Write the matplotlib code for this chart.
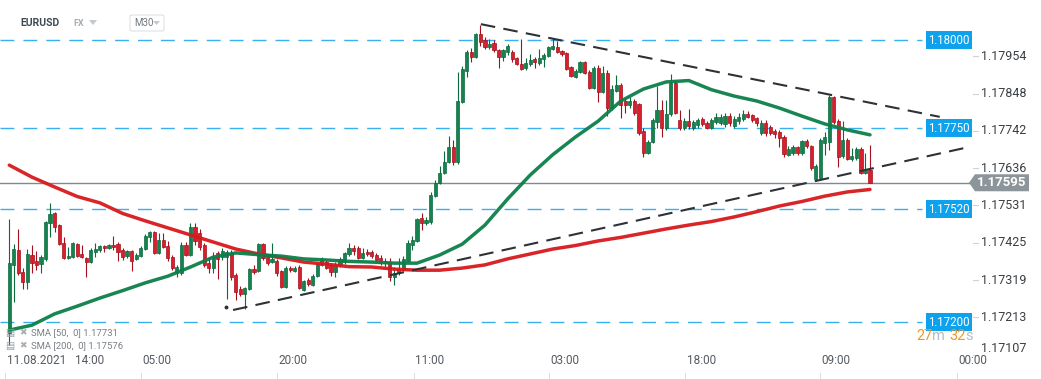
import matplotlib
matplotlib.use("Agg")
import matplotlib.pyplot as plt
import matplotlib.transforms as mtrans
from matplotlib.patches import Polygon, FancyBboxPatch
import numpy as np

plt.rcParams['font.family'] = ['Roboto', 'DejaVu Sans']

# --- data (EURUSD M30 candles) ---
opens = [1.17169, 1.17362, 1.17404, 1.17342, 1.17313, 1.17390, 1.17373, 1.17364, 1.17379, 1.17481,
         1.17509, 1.17475, 1.17424, 1.17382, 1.17384, 1.17421, 1.17393, 1.17382, 1.17370, 1.17399,
         1.17404, 1.17416, 1.17410, 1.17418, 1.17421, 1.17404, 1.17387, 1.17401, 1.17379, 1.17387,
         1.17407, 1.17441, 1.17455, 1.17396, 1.17433, 1.17416, 1.17384, 1.17339, 1.17339, 1.17418,
         1.17390, 1.17469, 1.17452, 1.17418, 1.17367, 1.17353, 1.17396, 1.17384, 1.17384, 1.17396,
         1.17333, 1.17294, 1.17279, 1.17294, 1.17350, 1.17345, 1.17421, 1.17384, 1.17370, 1.17373,
         1.17345, 1.17299, 1.17353, 1.17345, 1.17356, 1.17291, 1.17319, 1.17305, 1.17330, 1.17362,
         1.17370, 1.17362, 1.17342, 1.17362, 1.17370, 1.17393, 1.17410, 1.17410, 1.17382, 1.17399,
         1.17399, 1.17390, 1.17382, 1.17367, 1.17370, 1.17328, 1.17339, 1.17350, 1.17373, 1.17418,
         1.17430, 1.17495, 1.17481, 1.17484, 1.17557, 1.17594, 1.17623, 1.17654, 1.17696, 1.17654,
         1.17824, 1.17912, 1.17966, 1.17952, 1.18017, 1.18000, 1.17980, 1.17991, 1.17972, 1.17952,
         1.17966, 1.17966, 1.17949, 1.17932, 1.17921, 1.17932, 1.17946, 1.17935, 1.17946, 1.17955,
         1.17974, 1.17980, 1.17969, 1.17963, 1.17923, 1.17895, 1.17909, 1.17938, 1.17909, 1.17864,
         1.17921, 1.17852, 1.17906, 1.17807, 1.17855, 1.17872, 1.17827, 1.17816, 1.17827, 1.17818,
         1.17742, 1.17679, 1.17711, 1.17767, 1.17801, 1.17750, 1.17790, 1.17878, 1.17773, 1.17750,
         1.17770, 1.17750, 1.17759, 1.17776, 1.17765, 1.17750, 1.17767, 1.17765, 1.17762, 1.17784,
         1.17756, 1.17770, 1.17776, 1.17790, 1.17787, 1.17779, 1.17736, 1.17765, 1.17753, 1.17742,
         1.17739, 1.17725, 1.17674, 1.17679, 1.17696, 1.17679, 1.17713, 1.17699, 1.17606, 1.17609,
         1.17708, 1.17711, 1.17838, 1.17770, 1.17671, 1.17716, 1.17662, 1.17665, 1.17691, 1.17623,
         1.17631]
highs = [1.17492, 1.17421, 1.17464, 1.17353, 1.17407, 1.17418, 1.17401, 1.17390, 1.17486, 1.17538,
         1.17512, 1.17478, 1.17441, 1.17413, 1.17427, 1.17424, 1.17418, 1.17384, 1.17410, 1.17424,
         1.17418, 1.17418, 1.17421, 1.17444, 1.17427, 1.17410, 1.17404, 1.17404, 1.17396, 1.17416,
         1.17450, 1.17458, 1.17458, 1.17452, 1.17452, 1.17430, 1.17390, 1.17362, 1.17427, 1.17427,
         1.17481, 1.17481, 1.17464, 1.17424, 1.17384, 1.17399, 1.17401, 1.17410, 1.17404, 1.17404,
         1.17339, 1.17302, 1.17299, 1.17353, 1.17362, 1.17424, 1.17424, 1.17390, 1.17424, 1.17379,
         1.17347, 1.17359, 1.17359, 1.17359, 1.17362, 1.17319, 1.17325, 1.17336, 1.17370, 1.17384,
         1.17376, 1.17367, 1.17370, 1.17384, 1.17399, 1.17424, 1.17418, 1.17416, 1.17410, 1.17407,
         1.17404, 1.17396, 1.17390, 1.17382, 1.17382, 1.17356, 1.17382, 1.17387, 1.17433, 1.17444,
         1.17495, 1.17509, 1.17498, 1.17568, 1.17603, 1.17643, 1.17685, 1.17728, 1.17716, 1.17909,
         1.17926, 1.17972, 1.17977, 1.18020, 1.18043, 1.18009, 1.18003, 1.18000, 1.17974, 1.17974,
         1.17989, 1.17972, 1.17952, 1.18003, 1.17949, 1.17960, 1.17952, 1.17974, 1.17963, 1.17983,
         1.18006, 1.17997, 1.17972, 1.17966, 1.17926, 1.17918, 1.17940, 1.17940, 1.17915, 1.17926,
         1.17929, 1.17926, 1.17915, 1.17872, 1.17901, 1.17878, 1.17835, 1.17838, 1.17833, 1.17821,
         1.17750, 1.17716, 1.17779, 1.17870, 1.17830, 1.17830, 1.17904, 1.17887, 1.17801, 1.17779,
         1.17804, 1.17773, 1.17779, 1.17782, 1.17770, 1.17779, 1.17793, 1.17790, 1.17793, 1.17793,
         1.17784, 1.17793, 1.17801, 1.17799, 1.17790, 1.17782, 1.17773, 1.17773, 1.17759, 1.17748,
         1.17745, 1.17730, 1.17699, 1.17702, 1.17699, 1.17716, 1.17719, 1.17702, 1.17648, 1.17722,
         1.17739, 1.17844, 1.17841, 1.17776, 1.17770, 1.17722, 1.17694, 1.17696, 1.17696, 1.17679,
         1.17702]
lows = [1.17135, 1.17257, 1.17333, 1.17294, 1.17294, 1.17339, 1.17347, 1.17339, 1.17373, 1.17441,
        1.17455, 1.17418, 1.17379, 1.17379, 1.17382, 1.17384, 1.17382, 1.17328, 1.17367, 1.17384,
        1.17399, 1.17399, 1.17407, 1.17404, 1.17373, 1.17376, 1.17382, 1.17345, 1.17376, 1.17384,
        1.17404, 1.17427, 1.17393, 1.17393, 1.17410, 1.17373, 1.17347, 1.17328, 1.17333, 1.17387,
        1.17387, 1.17418, 1.17404, 1.17356, 1.17339, 1.17339, 1.17322, 1.17376, 1.17265, 1.17319,
        1.17262, 1.17274, 1.17237, 1.17291, 1.17336, 1.17342, 1.17376, 1.17362, 1.17367, 1.17330,
        1.17296, 1.17296, 1.17342, 1.17342, 1.17294, 1.17288, 1.17302, 1.17302, 1.17328, 1.17359,
        1.17350, 1.17330, 1.17328, 1.17356, 1.17364, 1.17387, 1.17390, 1.17379, 1.17379, 1.17387,
        1.17382, 1.17370, 1.17362, 1.17356, 1.17316, 1.17305, 1.17333, 1.17345, 1.17370, 1.17404,
        1.17427, 1.17461, 1.17475, 1.17478, 1.17554, 1.17591, 1.17620, 1.17651, 1.17645, 1.17648,
        1.17821, 1.17895, 1.17938, 1.17949, 1.17983, 1.17974, 1.17974, 1.17966, 1.17921, 1.17940,
        1.17957, 1.17938, 1.17929, 1.17915, 1.17915, 1.17926, 1.17921, 1.17929, 1.17923, 1.17952,
        1.17972, 1.17963, 1.17955, 1.17915, 1.17895, 1.17892, 1.17906, 1.17904, 1.17861, 1.17861,
        1.17824, 1.17850, 1.17784, 1.17801, 1.17852, 1.17779, 1.17793, 1.17807, 1.17787, 1.17730,
        1.17668, 1.17677, 1.17708, 1.17750, 1.17725, 1.17745, 1.17784, 1.17790, 1.17745, 1.17745,
        1.17748, 1.17745, 1.17750, 1.17756, 1.17748, 1.17748, 1.17762, 1.17759, 1.17753, 1.17756,
        1.17750, 1.17762, 1.17770, 1.17779, 1.17767, 1.17756, 1.17730, 1.17728, 1.17730, 1.17722,
        1.17696, 1.17668, 1.17671, 1.17674, 1.17674, 1.17674, 1.17694, 1.17631, 1.17600, 1.17603,
        1.17674, 1.17688, 1.17762, 1.17640, 1.17665, 1.17660, 1.17657, 1.17660, 1.17620, 1.17620,
        1.17594]
closes = [1.17367, 1.17407, 1.17339, 1.17313, 1.17393, 1.17367, 1.17362, 1.17384, 1.17484, 1.17506,
          1.17469, 1.17421, 1.17382, 1.17387, 1.17424, 1.17387, 1.17384, 1.17370, 1.17404, 1.17407,
          1.17416, 1.17410, 1.17418, 1.17413, 1.17399, 1.17384, 1.17401, 1.17373, 1.17390, 1.17410,
          1.17444, 1.17455, 1.17396, 1.17433, 1.17413, 1.17382, 1.17353, 1.17356, 1.17418, 1.17390,
          1.17469, 1.17430, 1.17413, 1.17362, 1.17353, 1.17384, 1.17379, 1.17401, 1.17399, 1.17328,
          1.17285, 1.17279, 1.17296, 1.17350, 1.17342, 1.17421, 1.17382, 1.17367, 1.17379, 1.17339,
          1.17299, 1.17353, 1.17347, 1.17353, 1.17296, 1.17316, 1.17308, 1.17330, 1.17364, 1.17376,
          1.17353, 1.17342, 1.17362, 1.17379, 1.17396, 1.17410, 1.17401, 1.17382, 1.17396, 1.17393,
          1.17387, 1.17376, 1.17367, 1.17373, 1.17328, 1.17339, 1.17350, 1.17379, 1.17424, 1.17433,
          1.17492, 1.17481, 1.17489, 1.17560, 1.17594, 1.17623, 1.17654, 1.17696, 1.17654, 1.17827,
          1.17918, 1.17966, 1.17952, 1.18017, 1.17994, 1.17980, 1.17989, 1.17972, 1.17952, 1.17972,
          1.17983, 1.17946, 1.17932, 1.17918, 1.17935, 1.17943, 1.17938, 1.17949, 1.17957, 1.17980,
          1.17983, 1.17966, 1.17960, 1.17918, 1.17898, 1.17912, 1.17938, 1.17906, 1.17864, 1.17921,
          1.17852, 1.17906, 1.17807, 1.17861, 1.17872, 1.17816, 1.17816, 1.17827, 1.17793, 1.17736,
          1.17679, 1.17711, 1.17773, 1.17801, 1.17750, 1.17790, 1.17878, 1.17793, 1.17750, 1.17770,
          1.17756, 1.17767, 1.17773, 1.17762, 1.17750, 1.17773, 1.17782, 1.17782, 1.17784, 1.17765,
          1.17776, 1.17782, 1.17790, 1.17782, 1.17773, 1.17765, 1.17765, 1.17736, 1.17736, 1.17733,
          1.17722, 1.17677, 1.17691, 1.17696, 1.17679, 1.17713, 1.17699, 1.17637, 1.17643, 1.17716,
          1.17725, 1.17838, 1.17767, 1.17668, 1.17716, 1.17662, 1.17671, 1.17691, 1.17623, 1.17631,
          1.17595]

# moving averages, read every 5 candles
sma_idx = [0, 5, 10, 15, 20, 25, 30, 35, 40, 45, 50, 55, 60, 65, 70, 75, 80, 85, 90, 95,
           100, 105, 110, 115, 120, 125, 130, 135, 140, 145, 150, 155, 160, 165, 170, 175,
           180, 185, 190]
sma50_val = [1.17177, 1.17191, 1.17223, 1.17245, 1.17268, 1.17289, 1.17311, 1.17330, 1.17356,
             1.17384, 1.17396, 1.17391, 1.17387, 1.17379, 1.17376, 1.17372, 1.17370, 1.17367,
             1.17367, 1.17390, 1.17421, 1.17475, 1.17549, 1.17617, 1.17675, 1.17725, 1.17770,
             1.17827, 1.17861, 1.17881, 1.17885, 1.17859, 1.17841, 1.17827, 1.17807, 1.17784,
             1.17762, 1.17745, 1.17731]
sma200_val = [1.17645, 1.17611, 1.17583, 1.17556, 1.17538, 1.17508, 1.17487, 1.17467, 1.17447,
              1.17427, 1.17407, 1.17393, 1.17382, 1.17370, 1.17364, 1.17357, 1.17356, 1.17350,
              1.17347, 1.17347, 1.17353, 1.17362, 1.17379, 1.17393, 1.17407, 1.17417, 1.17430,
              1.17440, 1.17452, 1.17464, 1.17475, 1.17485, 1.17498, 1.17513, 1.17529, 1.17542,
              1.17557, 1.17569, 1.17576]

upper_trend_x = [104.1, 205.4]
upper_trend_y = [1.18045, 1.17782]
lower_trend_x = [49.4, 211.0]
lower_trend_y = [1.17234, 1.17694]

levels = [1.18000, 1.17750, 1.17520, 1.17200]
current_price = 1.17595
price_ticks = [1.17954, 1.17848, 1.17742, 1.17636, 1.17531, 1.17425, 1.17319, 1.17213, 1.17107]
time_ticks = [-0.9, 14.1, 29.1, 59.1, 89.3, 119.1, 149.2, 179.0, 209.2]
time_labels = ['11.08.2021', '14:00', '05:00', '20:00', '11:00', '03:00', '18:00', '09:00', '00:00']

W, H = 1041, 379
fig = plt.figure(figsize=(W / 100, H / 100), dpi=100)
ax = fig.add_axes([0, 0, 1, 1])
ax.axis('off')
ax.set_xlim(-2.053, 227.75)
ax.set_ylim(1.170383, 1.181135)
bt = mtrans.blended_transform_factory(ax.transAxes, ax.transData)
tb = mtrans.blended_transform_factory(ax.transData, ax.transAxes)

def fx(px):
    return px / W

def fy(py):
    return 1 - py / H

# horizontal levels
for lv in levels:
    ax.plot([0, fx(922)], [lv, lv], transform=bt, color='#38b0ee', lw=1.0,
            linestyle=(0, (10, 6.5)), zorder=1)
    ax.text(fx(949), lv, f'{lv:.5f}', transform=bt, ha='center', va='center',
            fontsize=8.3, color='white',
            bbox=dict(boxstyle='square,pad=0.2', fc='#0ea2ec', ec='none'), zorder=6)

# current price line
ax.plot([0, fx(969)], [current_price, current_price], transform=bt, color='#7f898f', lw=1.0, zorder=2)

# candles
o = np.array(opens); h = np.array(highs); l = np.array(lows); c = np.array(closes)
xs = np.arange(len(o))
up = c >= o
g_face, g_edge = '#15824f', '#0c6a3d'
r_face, r_edge = '#d81f2d', '#a3111c'
ax.vlines(xs[up], l[up], h[up], color=g_edge, lw=0.8, zorder=3)
ax.vlines(xs[~up], l[~up], h[~up], color=r_edge, lw=0.8, zorder=3)
body_h = np.maximum(np.abs(c - o), 0.00003)
ax.bar(xs[up], body_h[up], bottom=np.minimum(o, c)[up], width=0.7,
       color=g_face, edgecolor=g_edge, linewidth=0.5, zorder=4)
ax.bar(xs[~up], body_h[~up], bottom=np.minimum(o, c)[~up], width=0.7,
       color=r_face, edgecolor=r_edge, linewidth=0.5, zorder=4)

# moving averages
ax.plot(sma_idx, sma200_val, color='#d7191c', lw=2.5, solid_capstyle='round',
        solid_joinstyle='round', zorder=5, alpha=0.95)
ax.plot(sma_idx, sma50_val, color='#0b7f4a', lw=2.5, solid_capstyle='round',
        solid_joinstyle='round', zorder=5, alpha=0.95)

# trend lines
ax.plot(upper_trend_x, upper_trend_y, color='#2d3236', lw=1.5, linestyle=(0, (7, 4)), zorder=6)
ax.plot(lower_trend_x, lower_trend_y, color='#2d3236', lw=1.5, linestyle=(0, (7, 4)), zorder=6)
ax.plot(lower_trend_x[0] - 1.5, lower_trend_y[0] + 0.00008, 'o', ms=1.8, color='#2d3236', zorder=6)

# price axis labels
for p in price_ticks:
    yp = max(p, 1.17125)
    ax.text(fx(981), yp, f'{p:.5f}', transform=bt, ha='left', va='center',
            fontsize=9, color='#3a3f44')
    ax.plot([fx(973), fx(978)], [p, p], transform=bt, color='#cfd3d6', lw=0.8)

# current price tag
ph = 8.5 * 0.00002837
tag = Polygon([(fx(969), current_price), (fx(975), current_price + ph), (fx(1029), current_price + ph),
               (fx(1029), current_price - ph), (fx(975), current_price - ph)],
              closed=True, transform=bt, fc='#8c959a', ec='none', zorder=7)
ax.add_patch(tag)
ax.text(fx(1002), current_price, f'{current_price:.5f}', transform=bt, ha='center', va='center',
        fontsize=9.5, fontweight='bold', color='white', zorder=8)

# time axis
for t, lab in zip(time_ticks, time_labels):
    if lab != '14:00':
        ax.plot([t, t], [0, 6 / H], transform=tb, color='#dcdfe2', lw=0.8)
    ax.text(t + 0.3, fy(361), lab, transform=tb, ha='left', va='center', fontsize=8.5, color='#555b61')

# header
fig.text(fx(20), fy(23), 'EURUSD', fontsize=7.5, fontweight='bold', color='#3e4a54', va='center')
fig.text(fx(73), fy(24), 'FX', fontsize=6.5, fontweight='bold', color='#a3adb6', va='center')
fig.patches.append(Polygon([(fx(89), fy(20)), (fx(97), fy(20)), (fx(93), fy(25))], closed=True,
                           transform=fig.transFigure, fc='#c3c9ce', ec='none'))
fig.patches.append(FancyBboxPatch((fx(130), fy(31)), fx(34), 16 / H, boxstyle='round,pad=0,rounding_size=0.003',
                                  transform=fig.transFigure, fc='white', ec='#dde1e4', lw=0.8))
fig.text(fx(134), fy(23), 'M30', fontsize=7, color='#6f7a82', va='center')
fig.patches.append(Polygon([(fx(153), fy(21)), (fx(160), fy(21)), (fx(156.5), fy(25))], closed=True,
                           transform=fig.transFigure, fc='#c3c9ce', ec='none'))

# indicator legend
for yy, lab in [(333, 'SMA [50,  0] 1.17731'), (346, 'SMA [200,  0] 1.17576')]:
    fig.text(fx(5), fy(yy), '▤', fontsize=7, color='#9aa1a7', va='center', family=['DejaVu Sans'])
    fig.text(fx(19), fy(yy), '✖', fontsize=6.5, color='#a8aeb3', va='center', family=['DejaVu Sans'])
    fig.text(fx(31), fy(yy), lab, fontsize=6.8, color='#7a8086', va='center')

# countdown
renderer = fig.canvas.get_renderer()
cx = 916
for s, col in [('27', '#f7931e'), ('m', '#b5bcc2'), (' ', None), ('32', '#f7931e'), ('s', '#b5bcc2')]:
    if s == ' ':
        cx += 4
        continue
    t = fig.text(fx(cx), fy(340), s, fontsize=10.5, color=col, va='baseline')
    cx += t.get_window_extent(renderer=renderer).width

fig.savefig('out.png', dpi=100)
